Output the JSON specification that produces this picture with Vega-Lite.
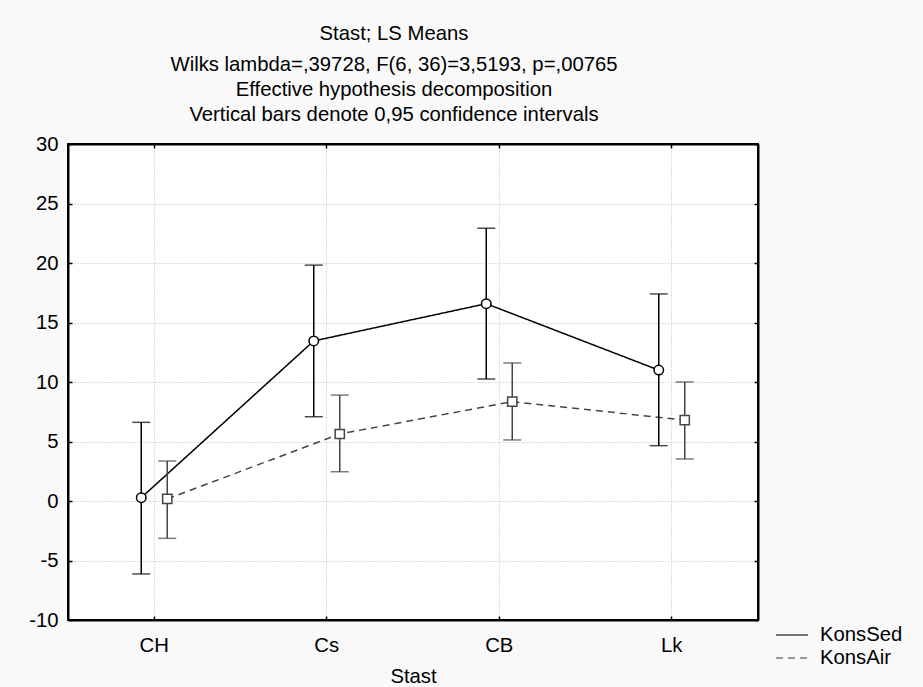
{
  "$schema": "https://vega.github.io/schema/vega-lite/v6.json",
  "width": 690,
  "height": 476,
  "autosize": {"type": "none"},
  "padding": {"left": 68, "top": 144, "right": 165, "bottom": 67},
  "background": "#f9f9f9",
  "config": {
    "view": {"stroke": "black", "strokeWidth": 2, "fill": "white"},
    "font": "Liberation Sans",
    "legend": {"orient": "none", "legendX": 713, "legendY": 480, "labelFontSize": 20.3, "labelFont": "Liberation Sans", "labelColor": "black", "symbolSize": 400, "symbolStrokeWidth": 1.5, "rowPadding": 1, "labelOffset": 17}
  },
  "title": {
    "text": "Stast; LS Means",
    "subtitle": ["Wilks lambda=,39728, F(6, 36)=3,5193, p=,00765", "Effective hypothesis decomposition", "Vertical bars denote 0,95 confidence intervals"],
    "anchor": "middle",
    "frame": "group",
    "dx": -19,
    "fontSize": 20.3,
    "fontWeight": "normal",
    "font": "Liberation Sans",
    "color": "black",
    "subtitleFontSize": 20.3,
    "subtitleFont": "Liberation Sans",
    "subtitleColor": "black",
    "subtitleLineHeight": 25,
    "subtitlePadding": 10,
    "offset": 9
  },
  "data": {
    "values": [
      {"Stast": "CH", "series": "KonsSed", "mean": 0.28, "lo": -6.13, "hi": 6.61},
      {"Stast": "Cs", "series": "KonsSed", "mean": 13.45, "lo": 7.08, "hi": 19.82},
      {"Stast": "CB", "series": "KonsSed", "mean": 16.58, "lo": 10.25, "hi": 22.92},
      {"Stast": "Lk", "series": "KonsSed", "mean": 11.0, "lo": 4.65, "hi": 17.4},
      {"Stast": "CH", "series": "KonsAir", "mean": 0.17, "lo": -3.14, "hi": 3.36},
      {"Stast": "Cs", "series": "KonsAir", "mean": 5.63, "lo": 2.46, "hi": 8.9},
      {"Stast": "CB", "series": "KonsAir", "mean": 8.35, "lo": 5.13, "hi": 11.6},
      {"Stast": "Lk", "series": "KonsAir", "mean": 6.8, "lo": 3.53, "hi": 10.0}
    ]
  },
  "resolve": {"axis": {"x": "independent", "y": "independent"}},
  "layer": [
    {
      "mark": {"type": "line", "strokeWidth": 1.5},
      "encoding": {
        "x": {"field": "Stast", "type": "nominal", "sort": ["CH", "Cs", "CB", "Lk"], "scale": {"type": "band", "paddingInner": 0, "paddingOuter": 0},
          "axis": {"orient": "bottom", "title": "Stast", "labelAngle": 0, "tickSize": -4, "labelPadding": 19, "labelFontSize": 20.3, "labelColor": "black", "titleFontSize": 20.3, "titleFontWeight": "normal", "titleColor": "black", "titlePadding": 11, "grid": true, "gridColor": "#bdbdbd", "gridDash": [1, 2], "domainColor": "black", "domainWidth": 2, "tickColor": "black", "tickWidth": 1.5}},
        "xOffset": {"field": "series", "type": "nominal", "scale": {"type": "point", "domain": ["KonsSed", "KonsAir"], "range": [73.25, 99.25], "padding": 0}},
        "y": {"field": "mean", "type": "quantitative", "scale": {"domain": [-10, 30], "nice": false, "zero": false},
          "axis": {"orient": "left", "title": null, "values": [-10, -5, 0, 5, 10, 15, 20, 25, 30], "labelExpr": "'' + datum.value", "tickSize": -4, "labelPadding": 14, "labelFontSize": 20.3, "labelColor": "black", "grid": true, "gridColor": "#bdbdbd", "gridDash": [1, 2], "domainColor": "black", "domainWidth": 2, "tickColor": "black", "tickWidth": 1.5}},
        "color": {"field": "series", "type": "nominal", "scale": {"domain": ["KonsSed", "KonsAir"], "range": ["#000000", "#444444"]},
          "legend": {"title": null, "symbolType": "M-1.6,0H1.6"}},
        "strokeDash": {"field": "series", "type": "nominal", "scale": {"domain": ["KonsSed", "KonsAir"], "range": [[1, 0], [7, 5]]},
          "legend": {"title": null, "symbolType": "M-1.6,0H1.6"}}
      }
    },
    {
      "mark": {"type": "rule", "strokeWidth": 1.5},
      "encoding": {
        "x": {"field": "Stast", "type": "nominal", "sort": ["CH", "Cs", "CB", "Lk"],
          "axis": {"orient": "top", "title": null, "labels": false, "tickSize": -4, "grid": false, "domainColor": "black", "domainWidth": 2, "tickColor": "black", "tickWidth": 1.5}},
        "xOffset": {"field": "series", "type": "nominal"},
        "y": {"field": "lo", "type": "quantitative",
          "axis": {"orient": "right", "title": null, "labels": false, "values": [-10, -5, 0, 5, 10, 15, 20, 25, 30], "tickSize": -4, "grid": false, "domainColor": "black", "domainWidth": 2, "tickColor": "black", "tickWidth": 1.5}},
        "y2": {"field": "hi"},
        "color": {"field": "series", "type": "nominal", "legend": {"title": null, "symbolType": "M-1.6,0H1.6"}}
      }
    },
    {
      "mark": {"type": "tick", "size": 18, "thickness": 1.5},
      "encoding": {
        "x": {"field": "Stast", "type": "nominal", "sort": ["CH", "Cs", "CB", "Lk"], "axis": null},
        "xOffset": {"field": "series", "type": "nominal"},
        "y": {"field": "lo", "type": "quantitative", "axis": null},
        "color": {"field": "series", "type": "nominal", "legend": {"title": null, "symbolType": "M-1.6,0H1.6"}}
      }
    },
    {
      "mark": {"type": "tick", "size": 18, "thickness": 1.5},
      "encoding": {
        "x": {"field": "Stast", "type": "nominal", "sort": ["CH", "Cs", "CB", "Lk"], "axis": null},
        "xOffset": {"field": "series", "type": "nominal"},
        "y": {"field": "hi", "type": "quantitative", "axis": null},
        "color": {"field": "series", "type": "nominal", "legend": {"title": null, "symbolType": "M-1.6,0H1.6"}}
      }
    },
    {
      "transform": [{"filter": "datum.series === 'KonsSed'"}],
      "mark": {"type": "point", "shape": "circle", "stroke": "#000000", "fill": "white", "filled": false, "strokeWidth": 1.5, "size": 90, "opacity": 1},
      "encoding": {
        "x": {"field": "Stast", "type": "nominal", "sort": ["CH", "Cs", "CB", "Lk"], "axis": null},
        "xOffset": {"field": "series", "type": "nominal"},
        "y": {"field": "mean", "type": "quantitative", "axis": null}
      }
    },
    {
      "transform": [{"filter": "datum.series === 'KonsAir'"}],
      "mark": {"type": "point", "shape": "square", "stroke": "#444444", "fill": "white", "filled": false, "strokeWidth": 1.5, "size": 85, "opacity": 1},
      "encoding": {
        "x": {"field": "Stast", "type": "nominal", "sort": ["CH", "Cs", "CB", "Lk"], "axis": null},
        "xOffset": {"field": "series", "type": "nominal"},
        "y": {"field": "mean", "type": "quantitative", "axis": null}
      }
    }
  ]
}
